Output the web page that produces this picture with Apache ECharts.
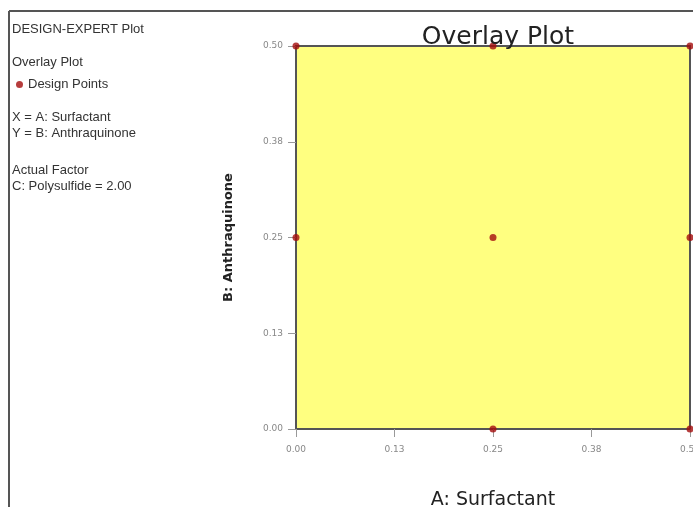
<!DOCTYPE html>
<html>
<head>
<meta charset="utf-8">
<script src="https://cdn.jsdelivr.net/npm/echarts@6/dist/echarts.min.js"></script>
<style>
  html, body { margin: 0; padding: 0; background: #fff; }
  #chart { width: 693px; height: 507px; }
</style>
</head>
<body>
<div id="chart"></div>
<script>
// design points (A: Surfactant, B: Anthraquinone)
const surfactant = [0, 0.25, 0.5, 0, 0.25, 0.5, 0.25, 0.5]
const anthraquinone = [0.5, 0.5, 0.5, 0.25, 0.25, 0.25, 0, 0]
const tickValues = [0, 0.125, 0.25, 0.375, 0.5]
const tickLabels = ['0.00', '0.13', '0.25', '0.38', '0.50']
const infoLines = [
  ['DESIGN-EXPERT Plot', 30],
  ['Overlay Plot', 63],
  ['X = A: Surfactant', 118],
  ['Y = B: Anthraquinone', 134],
  ['Actual Factor', 171],
  ['C: Polysulfide = 2.00', 187],
]

const points = surfactant.map((x, i) => [x, anthraquinone[i]])
const tickFmt = (v) => {
  const i = tickValues.findIndex((t) => Math.abs(t - v) < 1e-6)
  return i >= 0 ? tickLabels[i] : ''
}

const chart = echarts.init(document.getElementById('chart'))

const axisCommon = {
  type: 'value',
  min: 0,
  max: 0.5,
  interval: 0.125,
  axisLine: { show: false },
  axisTick: { show: true, length: 8, lineStyle: { color: '#999' } },
  splitLine: { show: false },
  axisLabel: { color: '#888', fontSize: 9, fontFamily: 'DejaVu Sans', formatter: tickFmt },
}

chart.setOption({
  animation: false,
  title: {
    text: 'Overlay Plot',
    left: 493,
    textAlign: 'center',
    top: 20,
    textStyle: { fontSize: 25, fontWeight: 'normal', color: '#222', fontFamily: 'DejaVu Sans' },
  },
  legend: {
    data: ['Design Points'],
    left: 11,
    top: 73,
    icon: 'circle',
    itemWidth: 7,
    itemHeight: 7,
    itemGap: 4,
    textStyle: { fontSize: 13, color: '#333', fontFamily: 'Arial' },
  },
  grid: {
    left: 296,
    top: 46,
    width: 394,
    height: 383,
    outerBoundsMode: 'none',
    containLabel: false,
    show: true,
    backgroundColor: '#ffff80',
    borderColor: '#555',
    borderWidth: 2,
  },
  xAxis: {
    ...axisCommon,
    name: 'A: Surfactant',
    nameLocation: 'middle',
    nameGap: 62,
    nameTextStyle: { fontSize: 19, color: '#222', fontFamily: 'DejaVu Sans' },
    axisLabel: { ...axisCommon.axisLabel, margin: 16 },
  },
  yAxis: {
    ...axisCommon,
    name: 'B: Anthraquinone',
    nameLocation: 'middle',
    nameRotate: 90,
    nameGap: 61,
    nameTextStyle: { fontSize: 13, fontWeight: 'bold', color: '#222', fontFamily: 'DejaVu Sans' },
    axisLabel: { ...axisCommon.axisLabel, margin: 13 },
  },
  series: [
    {
      name: 'Design Points',
      type: 'scatter',
      data: points,
      symbolSize: 7,
      itemStyle: { color: '#a40c0c' },
      z: 5,
    },
  ],
  graphic: [
    { type: 'line', shape: { x1: 9, y1: 11, x2: 693, y2: 11 }, style: { stroke: '#555', lineWidth: 2 } },
    { type: 'line', shape: { x1: 9, y1: 11, x2: 9, y2: 507 }, style: { stroke: '#555', lineWidth: 2 } },
    ...infoLines.map(([t, y]) => ({
      type: 'text',
      left: 12,
      top: y - 7,
      style: { text: t, fontSize: 13, fill: '#333', fontFamily: 'Arial' },
    })),
  ],
})
</script>
</body>
</html>
